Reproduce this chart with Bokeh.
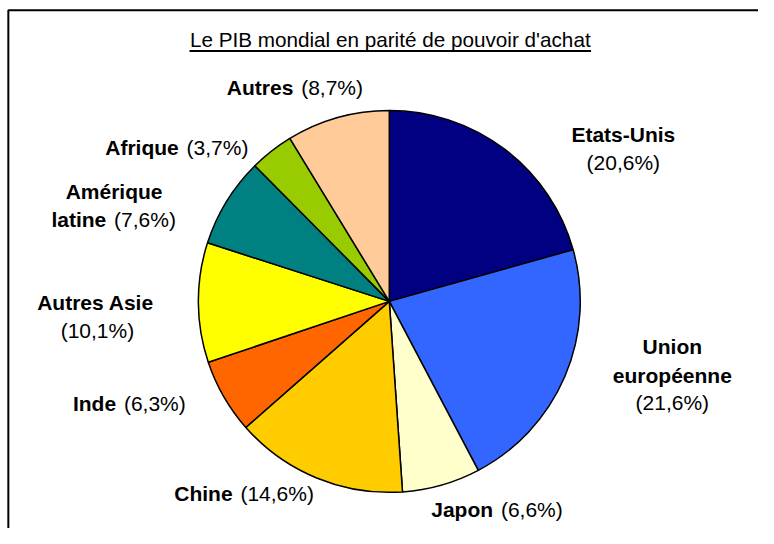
import numpy as np
from bokeh.plotting import figure
from bokeh.models import Range1d, ColumnDataSource
from bokeh.core.properties import value
from bokeh.embed import file_html
from bokeh.resources import INLINE

# ---- data ----
title_text = "Le PIB mondial en parité de pouvoir d'achat"
categories = ["Etats-Unis", "Union européenne", "Japon", "Chine", "Inde",
              "Autres Asie", "Amérique latine", "Afrique", "Autres"]
shares = [20.6, 21.6, 6.6, 14.6, 6.3, 10.1, 7.6, 3.7, 8.7]
share_labels = ["(20,6%)", "(21,6%)", "(6,6%)", "(14,6%)", "(6,3%)",
                "(10,1%)", "(7,6%)", "(3,7%)", "(8,7%)"]
colors = ["#000080", "#3366FF", "#FFFFCC", "#FFCC00", "#FF6600",
          "#FFFF00", "#008080", "#99CC00", "#FFCC99"]

# ---- layout (reference-pixel coordinate space 774 x 544) ----
W, H = 758, 528
RW, RH = 774, 544
FONT = "Liberation Sans"
FS = "21px"


def Y(y):
    return RH - y


p = figure(width=W, height=H, output_backend="svg", toolbar_location=None,
           x_range=Range1d(0, RW), y_range=Range1d(0, RH), min_border=0)
p.axis.visible = False
p.grid.visible = False
p.outline_line_color = None
p.background_fill_color = "white"
p.border_fill_color = "white"

# frame (left and top edges)
p.line(x=[8, 8, RW + 5], y=[-5, Y(10), Y(10)], line_color="black", line_width=2)

# title
p.text(x=[398], y=[Y(40)], text=[title_text], text_font=value(FONT),
       text_font_size="20.7px", text_align="center", text_baseline="middle",
       text_color="black")
p.segment(x0=[193], y0=[Y(52)], x1=[603], y1=[Y(52)],
          line_color="black", line_width=2)

# pie
vals = np.array(shares, dtype=float)
frac = vals / vals.sum()
cum = np.concatenate([[0.0], np.cumsum(frac)])
start = np.pi / 2 - 2 * np.pi * cum[:-1]
end = np.pi / 2 - 2 * np.pi * cum[1:]
src = ColumnDataSource(dict(start=start, end=end, color=colors, cat=categories, val=vals))
p.wedge(x=397, y=Y(310), radius=195, start_angle="start", end_angle="end",
        direction="clock", fill_color="color", line_color="black", line_width=1.5,
        source=src)


# labels
def txt(x, y, t, align, style):
    p.text(x=[x], y=[Y(y)], text=[t], text_font=value(FONT), text_font_size=FS,
           text_font_style=style, text_align=align, text_baseline="middle",
           text_color="black")


def bold(x, y, t, align="center"):
    txt(x, y, t, align, "bold")


def reg(x, y, t, align="center"):
    txt(x, y, t, align, "normal")


def split(xs, y, b, r):
    bold(xs - 4, y, b, "right")
    reg(xs + 4, y, r, "left")


# Etats-Unis
bold(636, 138, categories[0])
reg(636, 166.5, share_labels[0])
# Union européenne
bold(686, 356.5, "Union")
bold(686, 386.5, "européenne")
reg(686, 414, share_labels[1])
# Japon
split(507, 524.5, categories[2], share_labels[2])
# Chine
split(241, 507.5, categories[3], share_labels[3])
# Inde
split(122, 415, categories[4], share_labels[4])
# Autres Asie
bold(97, 311.5, categories[5])
reg(99, 340, share_labels[5])
# Amérique latine
bold(116, 196.5, "Amérique")
split(112, 226, "latine", share_labels[6])
# Afrique
split(186, 151.5, categories[7], share_labels[7])
# Autres
split(303, 90, categories[8], share_labels[8])

open("out.html", "w").write(file_html(p, INLINE))
